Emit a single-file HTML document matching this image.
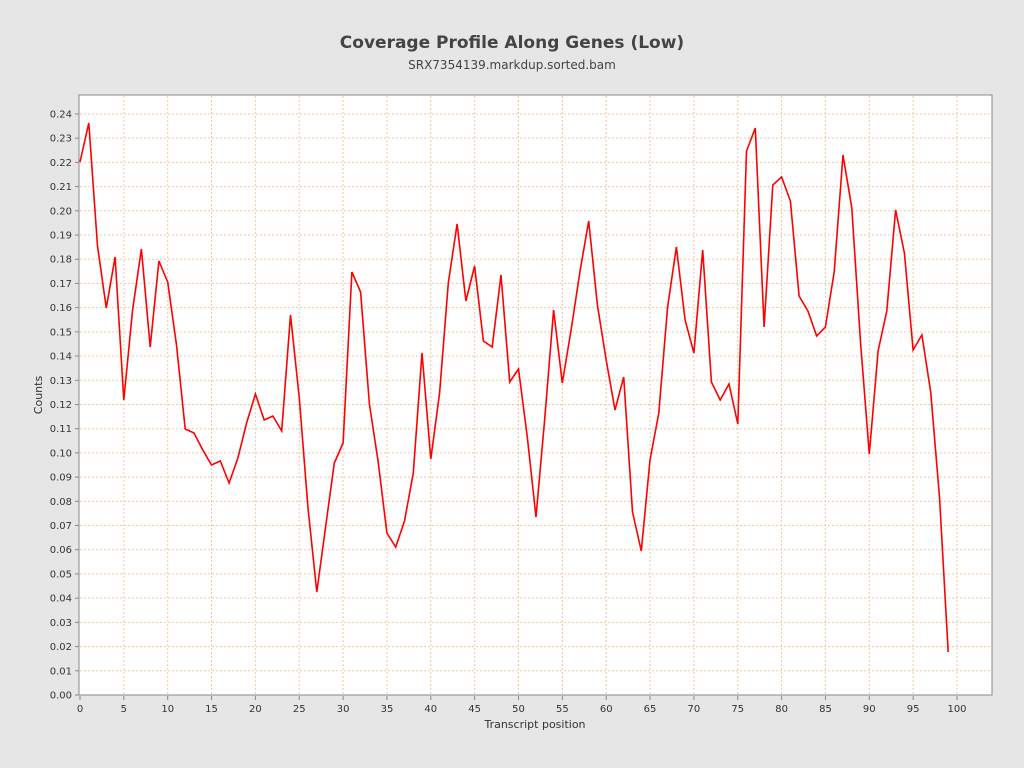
<!DOCTYPE html>
<html><head><meta charset="utf-8"><style>
body{margin:0;background:#e6e6e6;}
svg{display:block;font-family:"DejaVu Sans","Liberation Sans",sans-serif;}
</style></head><body>
<svg width="1024" height="768" xmlns="http://www.w3.org/2000/svg">
<rect width="1024" height="768" fill="#e6e6e6"/>
<text x="512" y="48" text-anchor="middle" font-size="17" font-weight="bold" fill="#444">Coverage Profile Along Genes (Low)</text>
<text x="512" y="69" text-anchor="middle" font-size="12" fill="#444">SRX7354139.markdup.sorted.bam</text>
<rect x="79" y="95" width="913" height="600" fill="#fff" stroke="#888" stroke-width="1"/>
<g id="grid" stroke="#f0c8a0" stroke-width="1" stroke-dasharray="2,2"></g>
<g id="ticks" font-size="10" fill="#333"></g>
<text x="535" y="728" text-anchor="middle" font-size="11" fill="#333">Transcript position</text>
<text transform="translate(42,395) rotate(-90)" text-anchor="middle" font-size="11" fill="#333">Counts</text>
<polyline id="line" fill="none" stroke="#ff0000" stroke-width="1.6" stroke-linejoin="miter"/>
</svg>
<script>
var ns="http://www.w3.org/2000/svg";
var g=document.getElementById('grid'),t=document.getElementById('ticks');
function el(n,a,p){var e=document.createElementNS(ns,n);for(var k in a)e.setAttribute(k,a[k]);p.appendChild(e);return e;}
for(var i=0;i<=24;i++){var y=695-i*24.21;
 if(i>0)el('line',{x1:80,x2:992,y1:y,y2:y},g);
 el('line',{x1:75,x2:79,y1:y,y2:y,stroke:'#888'},t);
 var s=el('text',{x:72,y:y+3.5,'text-anchor':'end'},t);s.textContent=(i/100).toFixed(2);}
for(var i=0;i<=20;i++){var x=80+i*5*8.77;
 if(i>0)el('line',{x1:x,x2:x,y1:96,y2:694},g);
 el('line',{x1:x,x2:x,y1:696,y2:700,stroke:'#888'},t);
 var s=el('text',{x:x,y:712,'text-anchor':'middle'},t);s.textContent=i*5;}
var ys=[162,123,246,308,257,400,310,249,347,261,282,345,429,433,450,465,461,483,458,423,394,420,416,431,315,398,508,592,527,463,443,272,292,404,462,533,547,521,473,353,459,393,283,224,301,266,341,347,275,382,369,437,517,418,310,383,330,272,221,305,360,410,377,512,551,460,413,307,247,320,353,250,382,400,384,424,151,128,327,185,177,201,296,311,336,327,272,155,208,342,454,351,311,210,253,350,335,392,497,652];
document.getElementById('line').setAttribute('points',ys.map(function(y,i){return (80+i*8.77).toFixed(1)+','+y;}).join(' '));
</script>
</body></html>
